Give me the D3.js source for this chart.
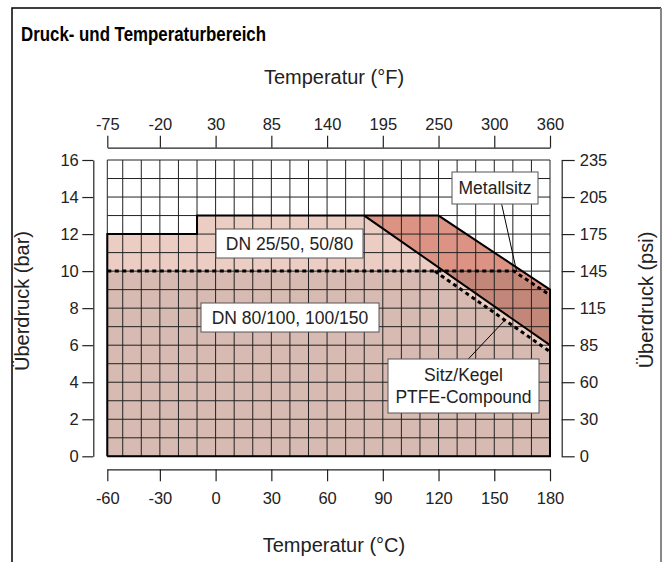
<!DOCTYPE html>
<html><head><meta charset="utf-8">
<script src="https://cdn.jsdelivr.net/npm/d3@7"></script>
<style>
body{margin:0;background:#fff;}
svg{display:block;font-family:"Liberation Sans",Arial,sans-serif;}
</style></head>
<body><svg id="c" width="670" height="562"></svg>
<script>
// ---- data ----
const cTicks = [-60, -30, 0, 30, 60, 90, 120, 150, 180];
const fLabels = ["-75", "-20", "30", "85", "140", "195", "250", "300", "360"];
const barTicks = [0, 2, 4, 6, 8, 10, 12, 14, 16];
const psiLabels = ["0", "30", "60", "85", "115", "145", "175", "205", "235"];
const gridTemps = [-60, -50, -40, -30, -20, -10, 0, 10, 20, 30, 40, 50, 60, 70, 80, 90, 100, 110, 120, 130, 140, 150, 160, 170, 180];
const gridBars = [0, 1, 2, 3, 4, 5, 6, 7, 8, 9, 10, 11, 12, 13, 14, 15, 16];
const ptfeDN25 = [[-60,0],[-60,12],[-10,12],[-10,13],[80,13],[180,6],[180,0]];
const ptfeDN80 = [[-60,0],[-60,10],[118,10],[180,5.65],[180,0]];
const metalDN25 = [[80,13],[120,13],[180,9],[180,6]];
const metalDN80 = [[122.9,10],[160.5,10],[180,8.7],[180,6]];
const outlinePTFE = [[-60,0],[-60,12],[-10,12],[-10,13],[80,13],[180,6]];
const outlineMetal = [[80,13],[120,13],[180,9],[180,0],[-60,0]];
const dottedDN80 = [[-60,10],[160.5,10],[180,8.7]];
const dottedPTFE = [[118,10],[180,5.65]];

const svg = d3.select("#c");
const x = d3.scaleLinear().domain([-58.3, 180]).range([107.3, 550]).clamp(true);
const y = d3.scaleLinear().domain([0, 16]).range([456.3, 160]);
const line = d3.line().x(d => x(d[0])).y(d => y(d[1]));

// frame
svg.append("path").attr("d","M12,570 L12,8 L661,8").attr("fill","none").attr("stroke","#000").attr("stroke-width",1.5);
svg.append("line").attr("x1",661).attr("x2",661).attr("y1",8).attr("y2",570).attr("stroke","#888").attr("stroke-width",2);

svg.append("text").attr("x",21).attr("y",41).attr("font-size",20).attr("font-weight","bold").attr("fill","#000")
  .attr("textLength",245).attr("lengthAdjust","spacingAndGlyphs")
  .text("Druck- und Temperaturbereich");

// fills
svg.append("path").attr("d", line(ptfeDN25) + "Z").attr("fill", "#ebcdc3");
svg.append("path").attr("d", line(ptfeDN80) + "Z").attr("fill", "#d7bbb2");
svg.append("path").attr("d", line(metalDN25) + "Z").attr("fill", "#dc9383");
svg.append("path").attr("d", line(metalDN80) + "Z").attr("fill", "#c3877a");

// grid
const g = svg.append("g").attr("stroke", "#222").attr("stroke-width", 1);
g.selectAll("line.v").data(gridTemps).join("line").attr("class","v")
  .attr("x1", d => x(d)).attr("x2", d => x(d)).attr("y1", y(0)).attr("y2", y(16));
g.selectAll("line.h").data(gridBars).join("line").attr("class","h")
  .attr("x1", x(-60)).attr("x2", x(180)).attr("y1", d => y(d)).attr("y2", d => y(d));

// outlines
svg.append("path").attr("d", line(outlinePTFE)).attr("fill","none").attr("stroke","#000").attr("stroke-width",2);
svg.append("path").attr("d", line(outlineMetal)).attr("fill","none").attr("stroke","#000").attr("stroke-width",2);
svg.append("path").attr("d", line(dottedDN80)).attr("fill","none").attr("stroke","#000").attr("stroke-width",3).attr("stroke-dasharray","4,3.5");
svg.append("path").attr("d", line(dottedPTFE)).attr("fill","none").attr("stroke","#000").attr("stroke-width",3).attr("stroke-dasharray","4,3.5");

// axes
function styleAxis(sel){
  sel.selectAll("path").attr("stroke","#222").attr("stroke-width",1.2);
  sel.selectAll("line").attr("stroke","#222").attr("stroke-width",1.2);
  sel.selectAll("text").attr("font-size",16.5).attr("fill","#222").attr("font-family","Liberation Sans, Arial, sans-serif");
}
const fmt = d => String(d);
const axB = svg.append("g").attr("transform","translate(0,469.3)")
  .call(d3.axisBottom(x).tickValues(cTicks).tickFormat(fmt).tickSizeInner(12).tickSizeOuter(0).tickPadding(11));
styleAxis(axB);
const axT = svg.append("g").attr("transform","translate(0,147.7)")
  .call(d3.axisTop(x).tickValues(cTicks).tickFormat((d,i)=>fLabels[i]).tickSizeInner(12).tickSizeOuter(0).tickPadding(6));
styleAxis(axT);
const axL = svg.append("g").attr("transform","translate(93.3,0)")
  .call(d3.axisLeft(y).tickValues(barTicks).tickFormat(fmt).tickSizeInner(11).tickSizeOuter(0).tickPadding(3.5));
styleAxis(axL);
const axR = svg.append("g").attr("transform","translate(561.7,0)")
  .call(d3.axisRight(y).tickValues(barTicks).tickFormat((d,i)=>psiLabels[i]).tickSizeInner(13).tickSizeOuter(0).tickPadding(5));
styleAxis(axR);

// axis titles
const tt = {"font-size":20,"fill":"#222","text-anchor":"middle"};
function title(tx, ty, txt, rot){
  const t = svg.append("text").attr("x",tx).attr("y",ty).text(txt);
  Object.entries(tt).forEach(([k,v])=>t.attr(k,v));
  if (rot) t.attr("transform",`rotate(-90,${tx},${ty})`);
}
title(334, 84, "Temperatur (°F)");
title(334, 552, "Temperatur (°C)");
title(29, 301, "Überdruck (bar)", true);
title(653, 300, "Überdruck (psi)", true);

// leader lines
svg.append("line").attr("x1",501.7).attr("y1",204.3).attr("x2",516.7).attr("y2",271.7).attr("stroke","#000").attr("stroke-width",1);
svg.append("line").attr("x1",468.3).attr("y1",359).attr("x2",505.7).attr("y2",319.3).attr("stroke","#000").attr("stroke-width",1);

// label boxes
function box(x0, y0, x1, y1, lines){
  svg.append("rect").attr("x",x0).attr("y",y0).attr("width",x1-x0).attr("height",y1-y0)
    .attr("fill","#fff").attr("stroke","#555").attr("stroke-width",1);
  const n = lines.length, cy = (y0+y1)/2, lh = 21.5;
  lines.forEach((s,i)=>{
    svg.append("text").attr("x",(x0+x1)/2).attr("y", cy + (i-(n-1)/2)*lh).attr("dy","0.35em")
      .attr("text-anchor","middle").attr("font-size",17.5).attr("fill","#222").text(s);
  });
}
box(216, 229, 363, 258, ["DN 25/50, 50/80"]);
box(201, 303, 379, 332, ["DN 80/100, 100/150"]);
box(452, 172, 538, 204, ["Metallsitz"]);
box(388, 359, 539, 413, ["Sitz/Kegel", "PTFE-Compound"]);
</script></body></html>
